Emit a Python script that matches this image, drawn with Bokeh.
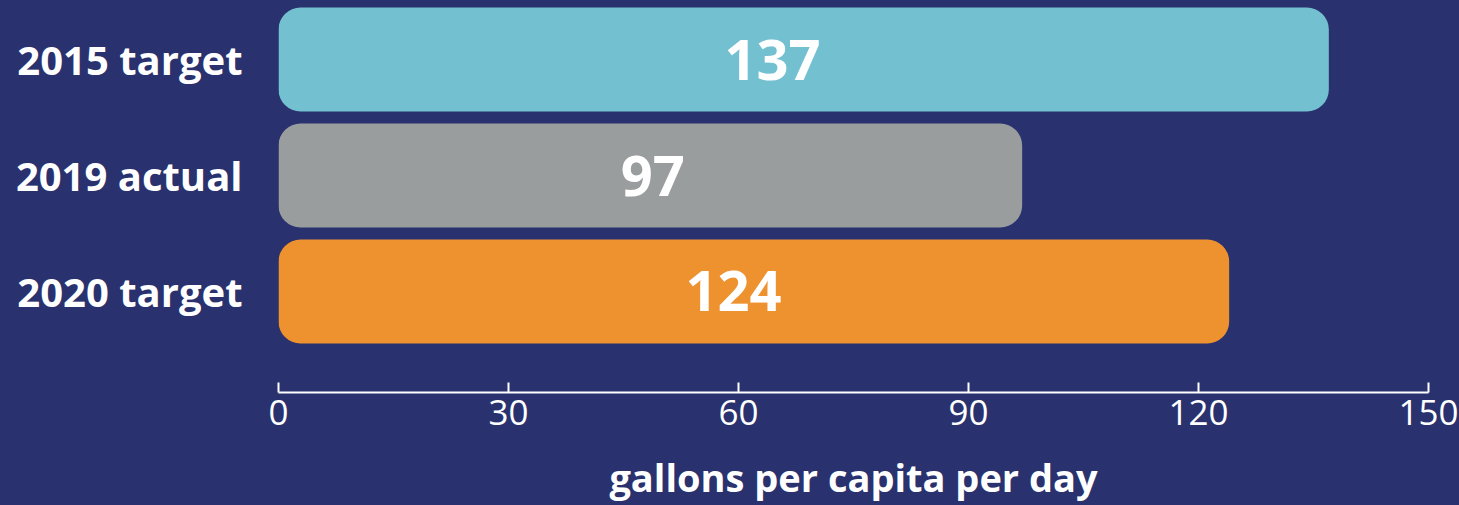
from bokeh.plotting import figure
from bokeh.models import Range1d, ColumnDataSource, FixedTicker
from bokeh.core.properties import value
from bokeh.embed import file_html
from bokeh.resources import INLINE

categories = ["2015 target", "2019 actual", "2020 target"]
values = [137, 97, 124]
bar_colors = ["#72C0D0", "#999D9E", "#EE9230"]
ticks = [0, 30, 60, 90, 120, 150]
axis_title = "gallons per capita per day"

BG = "#29326E"
FONT = "Open Sans"

idx = list(range(len(categories)))
src = ColumnDataSource(dict(
    y=idx,
    v=values,
    lx=[11 + 0.39 * v for v in values],
    lbl=[str(v) for v in values],
    color=bar_colors,
))

p = figure(width=1459, height=505, output_backend="svg", toolbar_location=None,
           x_range=Range1d(0, 150), y_range=Range1d(2.871, -0.509),
           min_border_left=278, min_border_right=31, min_border_top=0,
           min_border_bottom=113, styles={"background-color": BG})
p.background_fill_color = BG
p.border_fill_color = BG
p.border_fill_alpha = 0
p.outline_line_color = None
p.grid.visible = False

p.hbar(y="y", left=0, right="v", height=0.897, fill_color="color",
       line_color=None, border_radius=22, source=src)

p.text(x="lx", y="y", text="lbl", source=src,
       text_font=value(FONT), text_font_style="bold", text_font_size="56px",
       text_color="white", text_align="center", text_baseline="middle")

yax = p.yaxis[0]
yax.ticker = FixedTicker(ticks=idx)
yax.major_label_overrides = {i: c for i, c in zip(idx, categories)}
yax.axis_line_color = None
yax.major_tick_line_color = None
yax.minor_tick_line_color = None
yax.major_label_text_color = "white"
yax.major_label_text_font = FONT
yax.major_label_text_font_style = "bold"
yax.major_label_text_font_size = "40px"
yax.major_label_standoff = 30

ax = p.xaxis[0]
ax.ticker = FixedTicker(ticks=ticks)
ax.axis_line_color = "white"
ax.axis_line_width = 2
ax.major_tick_line_color = "white"
ax.major_tick_line_width = 2
ax.major_tick_in = 10
ax.major_tick_out = 0
ax.minor_tick_line_color = None
ax.major_label_text_color = "white"
ax.major_label_text_font = FONT
ax.major_label_text_font_size = "35px"
ax.major_label_standoff = 7
ax.axis_label = axis_title
ax.axis_label_text_color = "white"
ax.axis_label_text_font = FONT
ax.axis_label_text_font_style = "bold"
ax.axis_label_text_font_size = "38px"
ax.axis_label_standoff = 23

open("out.html", "w").write(file_html(p, INLINE))
